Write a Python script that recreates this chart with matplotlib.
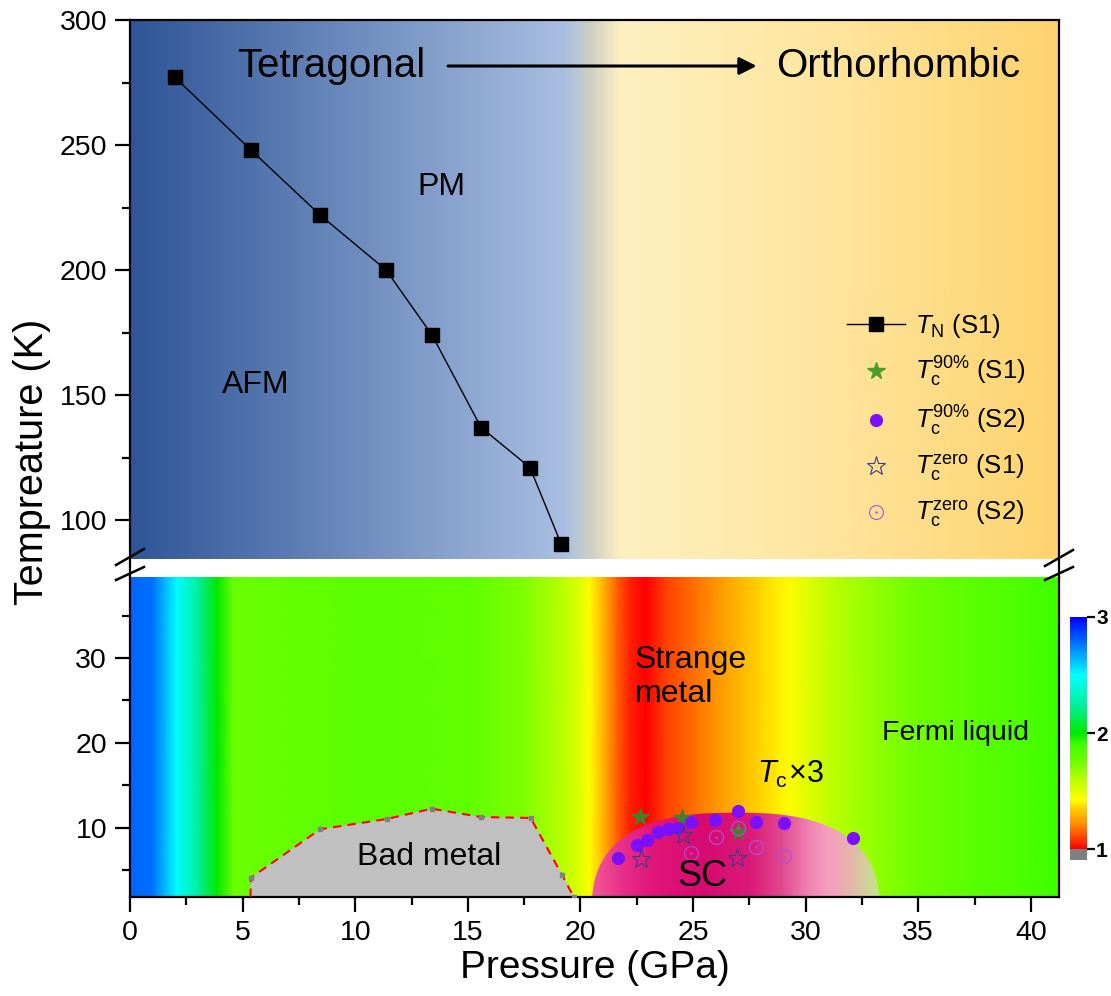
import numpy as np
import matplotlib
matplotlib.use("Agg")
import matplotlib.pyplot as plt
from matplotlib.colors import LinearSegmentedColormap
from matplotlib.path import Path
from matplotlib.patches import PathPatch
from matplotlib.lines import Line2D

plt.rcParams['font.family'] = ['Liberation Sans', 'DejaVu Sans']
plt.rcParams['mathtext.fontset'] = 'custom'
plt.rcParams['mathtext.rm'] = 'Liberation Sans'
plt.rcParams['mathtext.it'] = 'Liberation Sans:italic'
plt.rcParams['mathtext.bf'] = 'Liberation Sans:bold'

# ---- data ----
# Neel temperature, sample S1
tn_p = [2.0, 5.37, 8.44, 11.37, 13.41, 15.59, 17.76, 19.14]
tn_t = [277, 248, 222, 200, 174, 137, 121, 90.5]

# Tc (x3) points
tc90_s1_p = [22.65, 24.5, 27.0]
tc90_s1_t = [11.26, 11.14, 9.56]
tc90_s2_p = [21.69, 22.50, 22.97, 23.46, 23.90, 24.35, 24.90, 25.98, 26.98, 27.78, 29.04, 32.09]
tc90_s2_t = [6.43, 8.0, 8.59, 9.49, 9.84, 10.04, 10.74, 10.94, 12.04, 10.74, 10.63, 8.79]
tc0_s1_p = [22.69, 24.57, 26.97]
tc0_s1_t = [6.35, 9.18, 6.43]
tc0_s2_p = [24.9, 26.0, 26.98, 27.78, 29.04]
tc0_s2_t = [7.1, 8.9, 9.96, 7.8, 6.7]

# bad metal boundary
bm_p = [5.35, 5.37, 8.44, 11.40, 13.40, 15.59, 17.79, 19.18, 19.70]
bm_t = [1.9, 4.15, 9.85, 11.06, 12.27, 11.29, 11.18, 4.5, 1.9]

# resistivity exponent n vs pressure (background map)
n_p = [0, 1.0, 2.07, 3.0, 3.85, 4.6, 10, 15, 17.5, 19.2, 20.0, 20.4, 21.0, 21.6,
       22.2, 22.9, 23.8, 25.9, 27.8, 29.2, 31.2, 34.8, 41.25]
n_val = [2.8, 2.78, 2.5, 2.25, 2.0, 1.77, 1.82, 1.8, 1.72, 1.6, 1.5, 1.42, 1.3, 1.15,
         1.05, 1.0, 1.1, 1.22, 1.35, 1.42, 1.6, 1.75, 1.9]

# colour scale for n
n_stops = [1.0, 1.10, 1.22, 1.35, 1.42, 1.60, 1.75, 1.90, 2.00, 2.25, 2.50, 2.75, 3.00]
n_colors = ['#ff0000', '#ff4400', '#ff9000', '#ffd000', '#ffff00', '#b8ff00', '#70ff00',
            '#40ff00', '#00e800', '#00f0a0', '#00ffff', '#0080ff', '#0000ff']
cb_ticks = [1, 2, 3]

# top background (structure) colours vs pressure
top_p = [0, 19.3, 20.5, 21.8, 30, 41.25]
top_colors = ['#2f5597', '#a9bfe2', '#cfd0c4', '#fff0c0', '#fee7a2', '#fed36e']

# SC dome colours vs pressure
dome_p = [20.5, 21.8, 23.2, 25.4, 27.5, 28.9, 30.05, 30.9, 31.8, 32.7, 33.3]
dome_colors = ['#f25898', '#e8308a', '#e0167a', '#d70a70', '#da1a78', '#e04890',
               '#ef80b0', '#f59cc0', '#e8b0b0', '#d2d098', '#c0e880']
dome_cx, dome_cy, dome_a, dome_b, dome_pow = 26.9, 0.0, 6.4, 11.8, 2.6

xmax = 41.25
top_ylim = (77.2, 300)
top_bg_low = 84.4
bot_ylim = (1.88, 39.53)


def stop_cmap(pos, colors, lo, hi):
    return LinearSegmentedColormap.from_list(
        'c', [(min(max((p - lo) / (hi - lo), 0), 1), c) for p, c in zip(pos, colors)])


fig = plt.figure(figsize=(11.11, 9.96), dpi=100)
ax1 = fig.add_axes([0.11701, 0.42068, 0.83618, 0.55924])
ax2 = fig.add_axes([0.11701, 0.09940, 0.83618, 0.32128])

# ---- top panel ----
ramp = np.linspace(0, 1, 600)[None, :]
ax1.imshow(ramp, extent=(0, xmax, top_bg_low, 300), aspect='auto',
           cmap=stop_cmap(top_p, top_colors, 0, xmax), zorder=0)
ax1.plot(tn_p, tn_t, color='k', lw=1, marker='s', ms=10, zorder=3)
ax1.set_xlim(0, xmax)
ax1.set_ylim(*top_ylim)

ax1.text(8.93, 281.6, 'Tetragonal', fontsize=29, ha='center', va='center')
ax1.text(34.1, 281.6, 'Orthorhombic', fontsize=29, ha='center', va='center')
ax1.annotate('', xy=(27.95, 281.6), xytext=(14.0, 281.6),
             arrowprops=dict(arrowstyle='-|>', lw=2.2, color='k', mutation_scale=26))
ax1.text(13.81, 233.2, 'PM', fontsize=23, ha='center', va='center')
ax1.text(5.6, 154, 'AFM', fontsize=23, ha='center', va='center')

# ---- bottom panel ----
n_cmap = stop_cmap(n_stops, n_colors, 1.0, 3.0)
n_cmap.set_under('#7f7f7f')
mesh = ax2.pcolormesh(n_p, [bot_ylim[0], bot_ylim[1]], np.vstack([n_val, n_val]),
                      shading='gouraud', cmap=n_cmap, vmin=1, vmax=3, zorder=0)

# bad metal
ax2.fill(bm_p, bm_t, color='#c0c0c0', lw=0, zorder=2)
ax2.plot(bm_p, bm_t, color='red', lw=1.5, ls=(0, (4, 3)), zorder=3)
ax2.plot(bm_p[1:], bm_t[1:], ls='none', marker='s', ms=2.5, color='#808080', zorder=3)

# SC dome
th = np.linspace(0, np.pi, 300)
cs, sn = np.cos(th), np.sin(th)
dxs = dome_cx + dome_a * np.sign(cs) * np.abs(cs) ** (2 / dome_pow)
dys = dome_cy + dome_b * np.abs(sn) ** (2 / dome_pow)
dome_patch = PathPatch(Path(np.column_stack([dxs, dys]), closed=False),
                       facecolor='none', edgecolor='none', transform=ax2.transData)
ax2.add_patch(dome_patch)
d_lo, d_hi = dome_cx - dome_a, dome_cx + dome_a
dome_im = ax2.imshow(ramp, extent=(d_lo, d_hi, dome_cy, dome_cy + dome_b), aspect='auto',
                     cmap=stop_cmap(dome_p, dome_colors, d_lo, d_hi), zorder=2)
dome_im.set_clip_path(dome_patch)

# Tc points
ax2.plot(tc90_s1_p, tc90_s1_t, ls='none', marker='*', ms=13, color='#467f2a', zorder=4)
ax2.plot(tc90_s2_p, tc90_s2_t, ls='none', marker='o', ms=8.5, color='#7a10ff', zorder=4)
ax2.plot(tc0_s1_p, tc0_s1_t, ls='none', marker='*', ms=14, mfc='none', mec='#403a8a',
         mew=0.8, zorder=4)
ax2.plot(tc0_s2_p, tc0_s2_t, ls='none', marker='o', ms=10, mfc='none', mec='#b050e0',
         mew=0.8, zorder=4)
ax2.plot(tc0_s2_p, tc0_s2_t, ls='none', marker='.', ms=1.5, color='#b050e0', zorder=4)

ax2.set_xlim(0, xmax)
ax2.set_ylim(*bot_ylim)

ax2.text(22.42, 27.76, 'Strange\nmetal', fontsize=23, ha='left', va='center', linespacing=1.2)
ax2.text(33.38, 21.2, 'Fermi liquid', fontsize=20.5, ha='left', va='center')
ax2.text(27.83, 16.3, r'$T_{\rm c}\!\times\!3$', fontsize=22, ha='left', va='center')
ax2.text(25.4, 4.27, 'SC', fontsize=26, ha='center', va='center', zorder=5)
ax2.text(13.3, 6.62, 'Bad metal', fontsize=23, ha='center', va='center', zorder=5)

# ---- axes styling ----
for ax in (ax1, ax2):
    for sp in ax.spines.values():
        sp.set_linewidth(1.6)
    ax.tick_params(which='major', length=10.5, width=1.6, labelsize=20.5, pad=6)
    ax.tick_params(which='minor', length=5.5, width=1.6)
    ax.tick_params(axis='y', which='both', right=False, direction='out')

ax1.spines['bottom'].set_visible(False)
ax1.tick_params(axis='x', which='both', bottom=False, top=False, labelbottom=False)
ax1.set_yticks([100, 150, 200, 250, 300])
ax1.set_yticks([125, 175, 225, 275], minor=True)

ax2.spines['top'].set_visible(False)
ax2.set_xticks(np.arange(0, 41, 5))
ax2.set_xticks(np.arange(2.5, 41, 5), minor=True)
ax2.set_yticks([10, 20, 30])
ax2.set_yticks([5, 15, 25, 35], minor=True)
ax2.tick_params(axis='x', which='both', top=False, direction='out')
ax2.set_xlabel('Pressure (GPa)', fontsize=28, labelpad=3)

fig.text(0.029, 0.536, 'Tempreature (K)', fontsize=28.5, rotation=90, ha='center', va='center')

# break marks
W, H = 1111, 996
for (x0, y0, x1, y1) in [(116, 565, 144, 549), (116, 580, 144, 567),
                         (1045, 566, 1073, 550), (1045, 580, 1073, 567)]:
    fig.add_artist(Line2D([x0 / W, x1 / W], [1 - y0 / H, 1 - y1 / H],
                          transform=fig.transFigure, color='k', lw=1.8))

# legend
h_tn = Line2D([], [], color='k', lw=1, marker='s', ms=10)
h_90s1 = Line2D([], [], ls='none', marker='*', ms=13, color='#4c9c2c')
h_90s2 = Line2D([], [], ls='none', marker='o', ms=8.5, color='#7a10ff')
h_0s1 = Line2D([], [], ls='none', marker='*', ms=14, mfc='none', mec='#403a8a', mew=0.8)
h_0s2a = Line2D([], [], ls='none', marker='o', ms=10, mfc='none', mec='#b050e0', mew=0.8)
h_0s2b = Line2D([], [], ls='none', marker='.', ms=1.5, color='#b050e0')
ax1.legend([h_tn, h_90s1, h_90s2, h_0s1, (h_0s2a, h_0s2b)],
           [r'$T_{\rm N}$ (S1)', r'$T_{\rm c}^{\rm 90\%}$ (S1)', r'$T_{\rm c}^{\rm 90\%}$ (S2)',
            r'$T_{\rm c}^{\rm zero}$ (S1)', r'$T_{\rm c}^{\rm zero}$ (S2)'],
           loc='upper left', bbox_to_anchor=(0.772, 0.476), frameon=False, fontsize=18.5,
           borderpad=0, borderaxespad=0, handlelength=2.25, handletextpad=0.4,
           labelspacing=0.58)

# colorbar
cax = fig.add_axes([0.96310, 0.13655, 0.01530, 0.24398])
cb = fig.colorbar(mesh, cax=cax, extend='min', extendrect=True, extendfrac=0.047)
cb.outline.set_visible(False)
cb.set_ticks(cb_ticks)
cb.ax.set_yticklabels([str(t) for t in cb_ticks], fontsize=15, fontweight='bold')
cb.ax.tick_params(length=5.5, width=1.6, pad=1)

fig.savefig('out.png', dpi=100)
